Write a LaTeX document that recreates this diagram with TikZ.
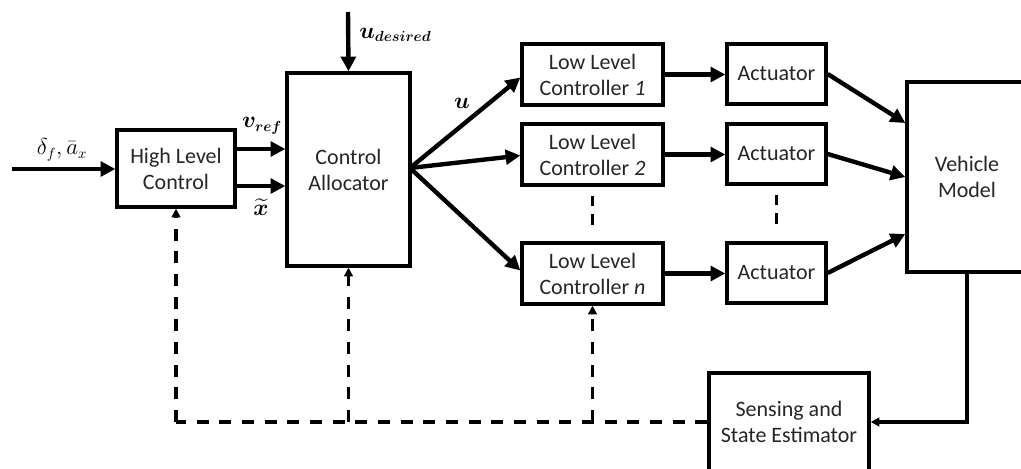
\documentclass[tikz,border=0pt]{standalone}
\usepackage{amsmath,bm}
\usepackage{fontspec}
\setmainfont{Carlito}
\usetikzlibrary{arrows.meta,calc}

\begin{document}
\begin{tikzpicture}[x=0.75pt,y=-0.75pt,
  blk/.style={draw=black, line width=2.5pt, align=center, inner sep=0pt,
    text=black!85, font=\fontsize{16.5}{19.5}\selectfont},
  arr/.style={line width=3.3pt, -{Triangle[length=11pt,width=11pt]}},
  fb/.style={line width=2.4pt, dash pattern=on 9pt off 8pt},
  fbarr/.style={fb, -{Triangle[length=6.5pt,width=6.5pt]}},
  thinarr/.style={line width=2.4pt, -{Triangle[length=6.5pt,width=6.5pt]}},
  sep/.style={line width=2.4pt, dash pattern=on 8pt off 6pt},
  lbl/.style={font=\fontsize{16}{19}\selectfont, inner sep=0pt}]

\clip (0,0) rectangle (1021,468);
\fill[white] (0,0) rectangle (1021,468);

% blocks
\node[blk, minimum width=88.5pt, minimum height=57.75pt] (HLC) at (176,168.5) {High Level\\Control};
\node[blk, minimum width=92.25pt, minimum height=144.75pt] (CA) at (348.5,169.5) {Control\\Allocator};
\node[blk, minimum width=105.75pt, minimum height=45.75pt] (L1) at (592.5,74.5) {Low Level\\Controller \textit{1}};
\node[blk, minimum width=105.75pt, minimum height=45.75pt] (L2) at (592.5,154.5) {Low Level\\Controller \textit{2}};
\node[blk, minimum width=105.75pt, minimum height=45.75pt] (Ln) at (592.5,273.5) {Low Level\\Controller \textit{n}};
\node[blk, minimum width=74.25pt, minimum height=45pt] (A1) at (776.5,74) {Actuator};
\node[blk, minimum width=74.25pt, minimum height=45pt] (A2) at (776.5,154) {Actuator};
\node[blk, minimum width=74.25pt, minimum height=45pt] (An) at (776.5,273) {Actuator};
\node[blk, minimum width=90pt, minimum height=142.5pt] (V) at (967,177) {Vehicle\\Model};
\node[blk, minimum width=120pt, minimum height=73.5pt] (S) at (789,422) {Sensing and\\State Estimator};

% free ends
\coordinate (in) at (12,169);
\coordinate (ud) at (348,12);

% input to high level control
\draw[arr] (in) -- (HLC.west |- in);
\node[lbl] (dlab) at (62,150) {$\delta_f,\bar{a}_x$};

% high level control to allocator
\coordinate (vr) at (0,149);
\coordinate (xt) at (0,186);
\draw[arr] (HLC.east |- vr) -- (CA.west |- vr);
\draw[arr] (HLC.east |- xt) -- (CA.west |- xt);
\node[lbl] (vlab) at (262,126) {$\bm{v}_{\bm{ref}}$};
\node[lbl] (xlab) at (261,207) {$\widetilde{\bm{x}}$};

% desired input
\draw[arr] (ud) -- (CA.north);
\node[lbl, anchor=west] (udlab) at (359,35) {$\bm{u}_{\bm{desired}}$};

% allocator fan-out
\coordinate (fan) at (410,168);
\draw[arr] (fan) -- ($(L1.west)+(0,3)$);
\draw[arr] (fan) -- ($(L2.west)+(0,1)$);
\draw[arr] (fan) -- ($(Ln.west)+(0,-3)$);
\node[lbl] (ulab) at (462,103) {$\bm{u}$};

% controllers to actuators
\draw[arr] (L1.east) -- (A1.west |- L1.east);
\draw[arr] (L2.east) -- (A2.west |- L2.east);
\draw[arr] (Ln.east) -- (An.west |- Ln.east);

% actuators to vehicle
\draw[arr] (A1.east) -- ($(V.west)+(0,-54)$);
\draw[arr] (A2.east) -- ($(V.west)+(0,0)$);
\draw[arr] (An.east) -- ($(V.west)+(0,57)$);

% ellipsis between rows
\draw[sep] ($(L2.south)+(0,9)$) -- ($(Ln.north)+(0,-11)$);
\draw[sep] ($(A2.south)+(0,9)$) -- ($(An.north)+(0,-11)$);

% vehicle output to estimator
\draw[thinarr] (V.south) -- (V.south |- S.east) -- (S.east);

% estimated state feedback
\coordinate (fbL) at (HLC.south |- S.west);
\coordinate (fbC) at (CA.south |- S.west);
\coordinate (fbN) at (Ln.south |- S.west);
\draw[fb] (S.west) -- (fbL);
\draw[fbarr] (fbL) -- (HLC.south);
\draw[fbarr] (fbC) -- (CA.south);
\draw[fbarr] (fbN) -- (Ln.south);

\end{tikzpicture}
\end{document}
